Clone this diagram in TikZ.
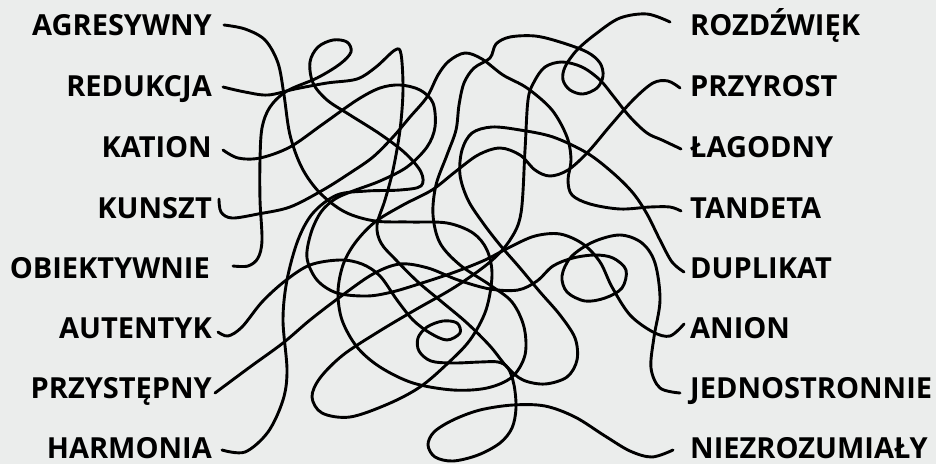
\documentclass[tikz,border=0pt]{standalone}
\usepackage{fontspec}
\setmainfont{Open Sans}
\usetikzlibrary{positioning}
\definecolor{paper}{HTML}{EBEDEC}
\definecolor{ink}{HTML}{000000}
\tikzset{
  word/.style={
    font=\bfseries\fontsize{29}{34}\selectfont,
    text=ink,
    inner sep=0pt,
    text height=21pt,
    text depth=0pt
  },
  left word/.style={word, anchor=east},
  right word/.style={word, anchor=west},
  wire/.style={draw=ink, line width=2.9pt, line cap=round, line join=round},
  tangle/.style={smooth, tension=0.55}
}

\begin{document}
\begin{tikzpicture}[x=1pt,y=-1pt]
  % Background
  \fill[paper] (0,0) rectangle (936,464);
  \useasboundingbox (0,0) rectangle (936,464);

  % Left words
  \node[left word] (agr) at (212,25) {AGRESYWNY};
  \node[left word] (red) at (212,86) {REDUKCJA};
  \node[left word] (kat) at (212,147) {KATION};
  \node[left word] (kun) at (212,208) {KUNSZT};
  \node[left word] (obi) at (210,268) {OBIEKTYWNIE};
  \node[left word] (aut) at (212,328) {AUTENTYK};
  \node[left word] (prz) at (212,388) {PRZYSTĘPNY};
  \node[left word] (har) at (212,448) {HARMONIA};

  % Right words
  \node[right word] (roz) at (690,25) {ROZDŹWIĘK};
  \node[right word] (pzr) at (690,86) {PRZYROST};
  \node[right word] (lag) at (690,147) {ŁAGODNY};
  \node[right word] (tan) at (690,208) {TANDETA};
  \node[right word] (dup) at (690,268) {DUPLIKAT};
  \node[right word] (ani) at (690,328) {ANION};
  \node[right word] (jed) at (690,388) {JEDNOSTRONNIE};
  \node[right word] (nie) at (690,448) {NIEZROZUMIAŁY};

  % Line ends beside the words
  \coordinate (agr-e) at ([xshift=12pt]agr.east);
  \coordinate (red-e) at ([xshift=11pt,yshift=-1pt]red.east);
  \coordinate (kat-e) at ([xshift=11pt,yshift=-3pt]kat.east);
  \coordinate (kun-e) at ([xshift=7pt,yshift=9pt]kun.east);
  \coordinate (obi-e) at ([xshift=23pt,yshift=2pt]obi.east);
  \coordinate (aut-e) at ([xshift=6pt,yshift=-4pt]aut.east);
  \coordinate (prz-e) at ([xshift=3pt,yshift=-5pt]prz.east);
  \coordinate (har-e) at ([xshift=10pt,yshift=-2pt]har.east);
  \coordinate (roz-e) at ([xshift=-20pt,yshift=3pt]roz.west);
  \coordinate (pzr-e) at ([xshift=-10pt,yshift=-2pt]pzr.west);
  \coordinate (lag-e) at ([xshift=-9pt,yshift=-2pt]lag.west);
  \coordinate (tan-e) at ([xshift=-9pt,yshift=-3pt]tan.west);
  \coordinate (dup-e) at ([xshift=-6pt,yshift=-4pt]dup.west);
  \coordinate (ani-e) at ([xshift=-6pt,yshift=4pt]ani.west);
  \coordinate (jed-e) at ([xshift=-10pt,yshift=-5pt]jed.west);
  \coordinate (nie-e) at ([xshift=-17pt,yshift=-2pt]nie.west);

  % Tangled lines
  \draw[wire] plot[tangle] coordinates {(agr-e) (245,29) (265,40) (278,63) (284,95)
    (290,135) (302,168) (320,193) (345,212) (375,221) (410,222) (447,223) (473,233)
    (487,250) (492,275) (486,310) (470,340) (447,364) (420,387) (388,404) (350,417)
    (322,413) (312,397) (320,378) (343,355) (378,332) (415,310) (455,287) (490,262)
    (510,240) (521,213) (525,150) (528,100) (534,82) (545,67) (562,62) (582,67)
    (600,80) (614,97) (630,117) (647,133) (662,140) (lag-e)};
  \draw[wire] plot[tangle] coordinates {(red-e) (245,92) (268,95) (295,89) (327,83)
    (357,79) (376,67) (395,50) (401,54) (403,90) (400,130) (393,170) (385,200)
    (377,225) (381,243) (396,260) (418,282) (442,302) (467,323) (490,346) (507,367)
    (523,380) (545,384) (567,377) (577,360) (575,338) (560,315) (540,292) (520,268)
    (500,245) (483,223) (468,200) (460,175) (462,150) (472,133) (492,127) (520,130)
    (553,137) (587,153) (613,173) (633,193) (647,214) (660,240) (672,262) (dup-e)};
  \draw[wire] plot[tangle] coordinates {(kat-e) (238,158) (260,158) (290,147)
    (323,124) (357,100) (380,88) (400,85) (420,90) (433,103) (435,127) (427,147)
    (407,167) (380,181) (353,191) (335,199) (321,212) (311,233) (307,258) (317,280)
    (337,293) (367,296) (392,292) (422,283) (455,272) (485,260) (510,247) (535,236)
    (560,234) (583,244) (600,262) (612,287) (630,315) (653,332) (670,336) (ani-e)};
  \draw[wire] plot[tangle] coordinates {(kun-e) (221,212) (232,218) (258,214)
    (290,207) (323,190) (350,173) (373,157) (393,137) (410,117) (427,97) (438,75)
    (449,61) (465,53) (482,59) (503,75) (527,88) (552,110) (567,137) (571,160)
    (568,180) (572,195) (590,204) (620,209) (650,207) (670,207) (tan-e)};
  \draw[wire] plot[tangle] coordinates {(obi-e) (248,266) (258,258) (262,240)
    (260,200) (260,160) (262,128) (270,107) (287,91) (317,78) (340,64) (351,52)
    (347,42) (333,40) (318,47) (310,62) (313,83) (327,100) (350,115) (380,134)
    (405,153) (421,172) (421,186) (400,190) (367,191) (337,195) (313,213) (298,240)
    (287,280) (283,320) (287,370) (283,400) (268,432) (245,452) (har-e)};
  \draw[wire] plot[tangle] coordinates {(aut-e) (228,336) (242,327) (262,302)
    (285,281) (310,265) (340,260) (362,264) (380,276) (397,300) (413,320) (430,333)
    (447,340) (460,333) (457,323) (443,321) (427,327) (418,338) (419,351) (431,361)
    (453,363) (480,362) (498,362) (508,368) (514,385) (516,408) (512,428) (500,443)
    (478,455) (453,461) (435,457) (428,445) (434,432) (453,420) (480,410) (513,405)
    (545,406) (575,417) (605,436) (630,451) (652,457) (nie-e)};
  \draw[wire] plot[tangle] coordinates {(prz-e) (250,367) (283,343) (310,320)
    (340,297) (373,274) (400,264) (428,268) (458,280) (490,289) (518,290) (537,281)
    (553,266) (573,258) (595,255) (613,258) (626,270) (622,288) (605,298) (585,301)
    (567,292) (562,276) (571,257) (593,242) (620,235) (642,243) (655,263) (660,300)
    (654,337) (651,368) (660,388) (jed-e)};
  \draw[wire] plot[tangle] coordinates {(roz-e) (647,14) (620,18) (597,33) (577,50)
    (565,67) (563,80) (570,90) (583,94) (597,88) (603,76) (600,63) (587,52) (560,42)
    (535,36) (510,37) (496,44) (490,58) (474,68) (464,83) (459,105) (456,130)
    (447,155) (436,185) (433,215) (440,243) (460,265) (490,285) (512,302) (524,327)
    (525,355) (512,377) (487,388) (453,390) (413,383) (380,367) (357,347) (342,320)
    (338,292) (343,265) (355,243) (375,222) (403,205) (432,190) (455,172) (478,155)
    (500,148) (520,155) (535,170) (550,176) (568,170) (588,152) (610,126) (633,100)
    (653,83) (668,81) (pzr-e)};
\end{tikzpicture}
\end{document}
